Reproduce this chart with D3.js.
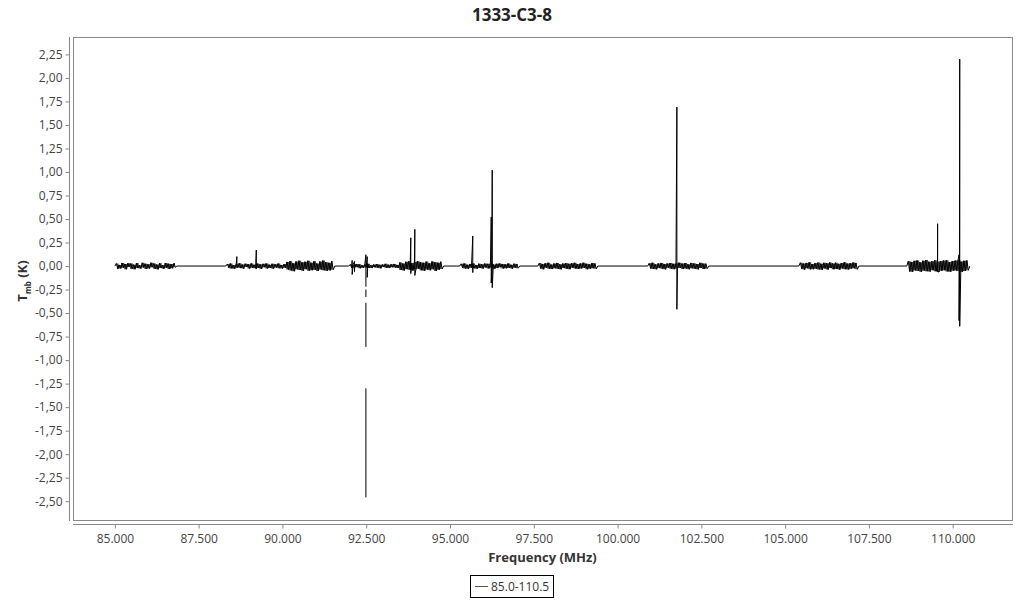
<!DOCTYPE html>
<html>
<head>
<meta charset="utf-8">
<script src="https://cdn.jsdelivr.net/npm/d3@7"></script>
<style>
  html, body { margin: 0; padding: 0; background: #fff; }
  svg { display: block; font-family: "Open Sans", "Noto Sans", sans-serif; }
</style>
</head>
<body>
<svg id="chart" width="1024" height="600"></svg>
<script>
// ---------------- DATA ----------------
const chartTitle = "1333-C3-8";
const seriesName = "85.0-110.5";

// observed frequency segments (MHz)
const segStarts = [85.0, 88.31, 91.98, 95.29, 97.62, 100.90, 105.41, 108.63];
const segEnds   = [86.85, 91.56, 94.81, 97.08, 99.41, 102.72, 107.20, 110.51];

// baseline noise samples per segment (mK) (segment edges sit at 0)
const noise1 = [0,28,-31,12,-25,33,-18,22,-34,30,-9,26,-29,15,-33,31,-22,8,-27,34,-15,24,-32,19,-26,35,-12,27,-30,16,-35,29,-20,11,-28,32,-17,25,-31,21,-24,30,-14,0];
const noise2 = [0,22,-18,27,-25,10,-28,24,-14,29,-22,16,-27,25,-10,20,-26,28,-19,13,-24,26,-21,18,-29,23,-12,27,-25,15,-20,24,-28,19,-16,26,-23,12,-27,21,-18,
                44,-38,52,-47,30,-55,48,-35,57,-42,39,-50,46,-33,55,-49,36,-44,51,-40,28,-53,47,-37,58,-45,41,-51,34,-46,53,-39,0];
const noise3 = [0,18,-21,14,-17,22,-12,19,-23,9,-18,20,-15,24,-20,11,-22,17,-14,21,-19,13,-24,16,-11,23,-18,15,-21,19,-13,22,-16,12,-20,
                38,-42,27,-47,45,-33,50,-40,31,-48,43,-36,52,-29,40,-45,35,-50,47,-38,29,-44,49,-34,41,-52,36,-39,46,-31,0];
const noise4 = [0,24,-20,28,-26,15,-29,22,-18,27,-24,12,-28,25,-21,19,-27,26,-15,23,-25,29,-19,17,-28,24,-22,27,-13,21,-26,18,-24,28,-20,14,-27,25,-17,22,-23,0];
const noise5 = [0,31,-27,22,-34,29,-19,35,-28,17,-32,27,-24,33,-30,20,-35,26,-22,32,-29,24,-33,30,-18,34,-27,21,-31,28,-25,35,-20,25,-34,19,-28,31,-23,27,-30,0];
const noise6 = [0,30,-26,35,-31,18,-34,28,-22,33,-29,21,-35,27,-19,32,-30,24,-33,29,-25,36,-21,26,-32,31,-27,19,-34,33,-24,28,-30,22,-35,34,-20,27,-31,25,-28,0];
const noise7 = [0,36,-30,27,-38,33,-24,39,-35,21,-33,31,-28,37,-36,25,-39,34,-26,30,-37,38,-22,28,-34,35,-31,23,-38,32,-27,39,-33,26,-36,30,-29,37,-24,33,-35,0];
const noise8 = [0,52,-58,44,-61,55,-47,60,-53,41,-62,57,-49,63,-55,46,-59,50,-44,61,-56,48,-63,54,-51,59,-45,62,-57,43,-60,53,-50,58,-48,64,-54,47,-61,56,-52,60,-46,0];
const segNoise = [noise1, noise2, noise3, noise4, noise5, noise6, noise7, noise8];

// spectral lines: frequency (MHz) and the sequence of Tmb (K) extremes; null = gap in the trace
const lineFreqs = [88.64, 89.22, 92.08, 92.15, 92.49, 92.53, 93.83, 93.95, 95.68, 96.23, 96.26, 101.77, 109.55, 110.19, 110.21];
const lineValues = [
  [0.10, -0.02],
  [0.17, -0.03],
  [0.06, -0.09],
  [0.05, -0.06],
  [0.12, -0.22, null, -0.25, -0.33, null, -0.39, -0.86, null, -1.30, -2.46, null],
  [0.10, -0.12],
  [0.30, -0.08],
  [0.39, -0.10],
  [0.32, -0.07],
  [0.52, -0.18],
  [1.02, -0.23],
  [1.69, -0.46],
  [0.45, -0.06],
  [0.12, -0.58],
  [2.20, -0.64]
];

// axis ticks
const xTicks = [85, 87.5, 90, 92.5, 95, 97.5, 100, 102.5, 105, 107.5, 110];
const yTicks = [-2.5, -2.25, -2, -1.75, -1.5, -1.25, -1, -0.75, -0.5, -0.25, 0, 0.25, 0.5, 0.75, 1, 1.25, 1.5, 1.75, 2, 2.25];
const xDomain = [83.75, 111.77];
const yDomain = [-2.70, 2.435];

// ---------------- BUILD SERIES ----------------
let pts = [];
const bands = [];
segStarts.forEach((s, k) => {
  const arr = segNoise[k], e = segEnds[k], n = arr.length;
  const fOf = i => s + i * (e - s) / (n - 1);
  arr.forEach((v, i) => pts.push({ f: fOf(i), v: v / 1000 }));
  const band = [];
  for (let i = 1; i + 1 < n - 1; i += 2) {
    band.push({ f: fOf(i + 0.5), hi: Math.max(arr[i], arr[i + 1]) / 1000, lo: Math.min(arr[i], arr[i + 1]) / 1000 });
  }
  bands.push(band);
});
lineFreqs.forEach((f, k) => lineValues[k].forEach(v => pts.push({ f: f, v: v })));
pts.sort((a, b) => a.f - b.f); // stable: keeps line order

// ---------------- DRAW ----------------
const svg = d3.select("#chart");
const L = 73, R = 1012, T = 37, B = 520;
const x = d3.scaleLinear().domain(xDomain).range([L, R]);
const y = d3.scaleLinear().domain(yDomain).range([B, T]);

const loc = d3.formatLocale({ decimal: ",", thousands: ".", grouping: [3], currency: ["", ""], minus: "-" });
const fy = loc.format(".2f");
const fx = d3.format(".3f");

// title
svg.append("text").attr("x", 512).attr("y", 21).attr("text-anchor", "middle")
  .attr("font-size", 17).attr("font-weight", "bold").attr("fill", "#222").text(chartTitle);

// plot frame
svg.append("rect").attr("x", L + 0.5).attr("y", T + 0.5).attr("width", R - L).attr("height", B - T)
  .attr("fill", "none").attr("stroke", "#888").attr("stroke-width", 1);

// y axis
const yAxis = d3.axisLeft(y).tickValues(yTicks).tickFormat(fy).tickSize(4).tickPadding(3);
const gy = svg.append("g").attr("transform", "translate(69.5,0)").call(yAxis);
gy.select(".domain").attr("stroke", "#888").attr("d", `M0,${T}V${B + 1}`);
gy.selectAll(".tick line").attr("stroke", "#888");
gy.selectAll(".tick text").attr("fill", "#444").attr("font-size", 12).attr("font-family", "Open Sans, Noto Sans, sans-serif");

// x axis
const xAxis = d3.axisBottom(x).tickValues(xTicks).tickFormat(fx).tickSize(4).tickPadding(6);
const gx = svg.append("g").attr("transform", "translate(0,524.5)").call(xAxis);
gx.select(".domain").attr("stroke", "#888").attr("d", `M${L},0H${R + 1}`);
gx.selectAll(".tick line").attr("stroke", "#888");
gx.selectAll(".tick text").attr("fill", "#444").attr("font-size", 12).attr("font-family", "Open Sans, Noto Sans, sans-serif");

// axis titles
svg.append("text").attr("x", (L + R) / 2).attr("y", 562).attr("text-anchor", "middle")
  .attr("font-size", 13).attr("font-weight", "bold").attr("fill", "#333").text("Frequency (MHz)");

const yl = svg.append("text").attr("transform", "translate(27,281) rotate(-90)").attr("text-anchor", "middle")
  .attr("font-size", 13).attr("font-weight", "bold").attr("fill", "#333");
yl.append("tspan").text("T");
yl.append("tspan").attr("font-size", 8).attr("dy", 4).text("mb");
yl.append("tspan").attr("dy", -4).text(" (K)");

// clip
svg.append("clipPath").attr("id", "clip").append("rect")
  .attr("x", L + 1).attr("y", T + 1).attr("width", R - L - 1).attr("height", B - T - 1);

const plot = svg.append("g").attr("clip-path", "url(#clip)");

// dense noise band (envelope of the noise samples)
const area = d3.area().x(d => x(d.f)).y0(d => y(d.lo)).y1(d => y(d.hi)).curve(d3.curveStep);
plot.selectAll("path.band").data(bands).join("path").attr("class", "band")
  .attr("fill", "#111").attr("fill-opacity", 0.8).attr("d", area);

// spectrum trace
const line = d3.line().defined(d => d.v !== null).x(d => x(d.f)).y(d => y(d.v));
plot.append("path").datum(pts)
  .attr("fill", "none").attr("stroke", "#000").attr("stroke-width", 1).attr("d", line);

// legend
const lg = svg.append("g");
lg.append("rect").attr("x", 470.5).attr("y", 575.5).attr("width", 83).attr("height", 22)
  .attr("fill", "#fff").attr("stroke", "#000").attr("stroke-width", 1);
lg.append("line").attr("x1", 475).attr("x2", 488).attr("y1", 586.5).attr("y2", 586.5)
  .attr("stroke", "#555").attr("stroke-width", 1);
lg.append("text").attr("x", 491).attr("y", 591).attr("font-size", 12).attr("fill", "#333").text(seriesName);
</script>
</body>
</html>
